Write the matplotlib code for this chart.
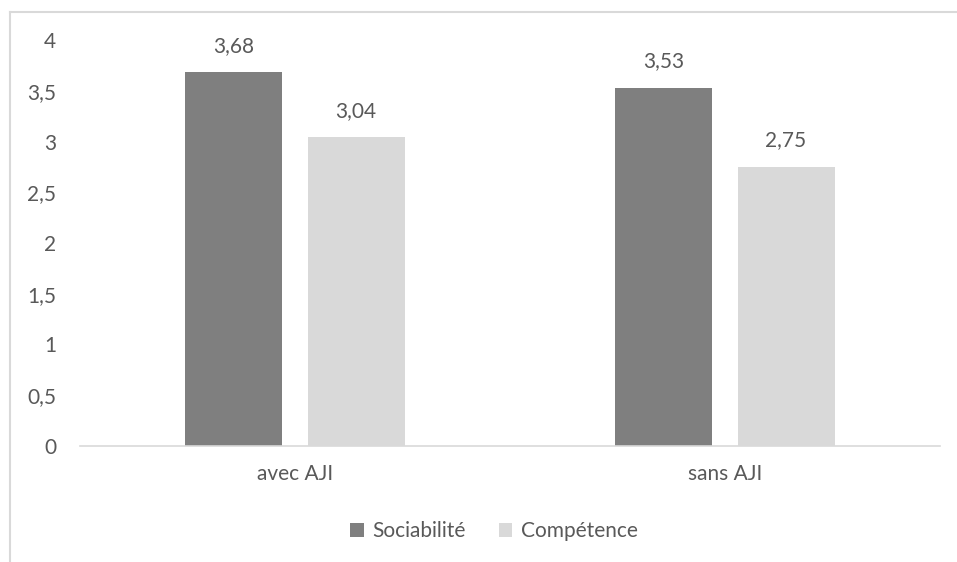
import matplotlib.pyplot as plt
from matplotlib.lines import Line2D

categories = ['avec AJI', 'sans AJI']
sociabilite = [3.68, 3.53]
competence = [3.04, 2.75]
y_ticks = [0, 0.5, 1, 1.5, 2, 2.5, 3, 3.5, 4]

text_color = '#595959'
plt.rcParams['font.family'] = ['Lato', 'DejaVu Sans']
fs = 15


def fr(v):
    return f'{v:g}'.replace('.', ',')


fig = plt.figure(figsize=(9.57, 5.62), dpi=100)
ax = fig.add_axes([80 / 957, 1 - 446 / 562, 860 / 957, 406 / 562])

# outer chart border, only left and top edges are inside the picture
bx, by = 9.5 / 957, 1 - 11.5 / 562
fig.add_artist(Line2D([bx, bx], [0, by], transform=fig.transFigure,
                      color='#d9d9d9', linewidth=1.5))
fig.add_artist(Line2D([bx, 1], [by, by], transform=fig.transFigure,
                      color='#d9d9d9', linewidth=1.5))

x = range(len(categories))
w = 0.2256
off = 0.142
b1 = ax.bar([i - off for i in x], sociabilite, w, color='#7f7f7f', label='Sociabilité')
b2 = ax.bar([i + off for i in x], competence, w, color='#d9d9d9', label='Compétence')

for bars, vals in ((b1, sociabilite), (b2, competence)):
    for rect, v in zip(bars, vals):
        ax.annotate(fr(v), (rect.get_x() + rect.get_width() / 2, v),
                    xytext=(0, 19), textcoords='offset points',
                    ha='center', va='center', fontsize=fs, color=text_color)

ax.set_xlim(-0.5, 1.5)
ax.set_ylim(0, 4)
ax.set_yticks(y_ticks)
ax.set_yticklabels([fr(t) for t in y_ticks])
ax.set_xticks(list(x))
ax.set_xticklabels(categories)
ax.tick_params(axis='both', length=0, labelsize=fs, labelcolor=text_color)
ax.tick_params(axis='y', pad=17)
ax.tick_params(axis='x', pad=13)
for s in ('top', 'right', 'left'):
    ax.spines[s].set_visible(False)
ax.spines['bottom'].set_color('#d9d9d9')
ax.spines['bottom'].set_linewidth(1.2)

leg = fig.legend(loc='center', bbox_to_anchor=(494 / 957, 1 - 531 / 562), ncol=2,
                 frameon=False, fontsize=fs, handlelength=0.65, handleheight=0.65,
                 handletextpad=0.4, columnspacing=1.6)
for t in leg.get_texts():
    t.set_color(text_color)

fig.savefig('out.png', dpi=100)
